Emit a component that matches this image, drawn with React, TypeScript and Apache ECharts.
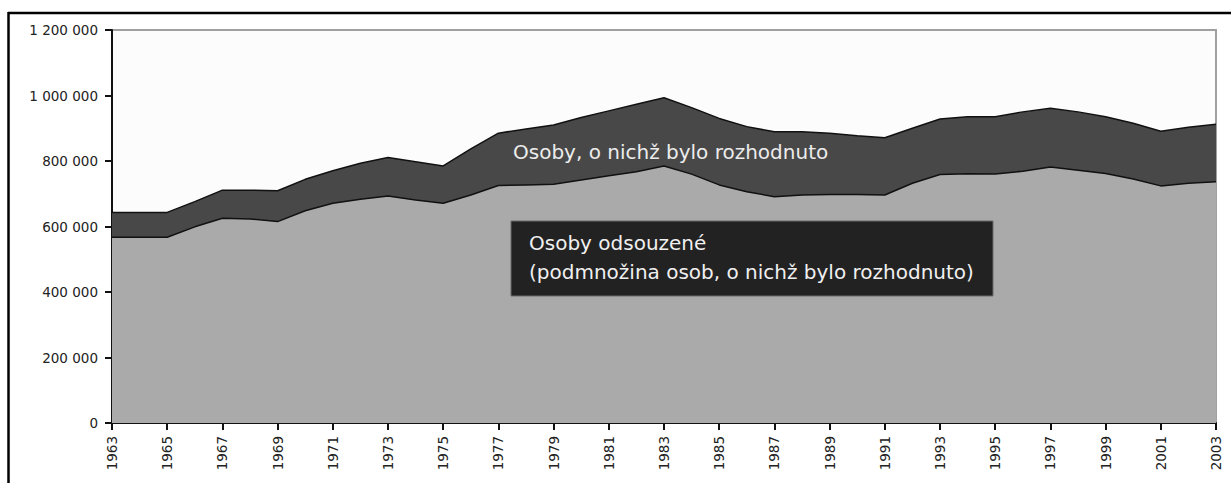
import React, { useEffect, useRef } from "react";
import * as echarts from "echarts";

const years = [
  "1963", "1964", "1965", "1966", "1967", "1968", "1969", "1970", "1971", "1972",
  "1973", "1974", "1975", "1976", "1977", "1978", "1979", "1980", "1981", "1982",
  "1983", "1984", "1985", "1986", "1987", "1988", "1989", "1990", "1991", "1992",
  "1993", "1994", "1995", "1996", "1997", "1998", "1999", "2000", "2001", "2002", "2003",
];

// Osoby, o nichž bylo rozhodnuto
const decided = [
  643000, 643000, 643000, 676000, 711000, 711000, 709000, 744000, 770000, 793000,
  811000, 798000, 785000, 837000, 885000, 898000, 910000, 933000, 953000, 973000,
  993000, 963000, 930000, 905000, 889000, 889000, 885000, 877000, 871000, 900000,
  928000, 935000, 935000, 950000, 961000, 950000, 935000, 915000, 891000, 903000, 912000,
];

// Osoby odsouzené
const convicted = [
  567000, 567000, 567000, 599000, 625000, 623000, 615000, 648000, 671000, 683000,
  693000, 681000, 671000, 696000, 725000, 727000, 729000, 742000, 755000, 767000,
  785000, 760000, 727000, 706000, 691000, 696000, 698000, 698000, 696000, 732000,
  759000, 761000, 760000, 769000, 782000, 772000, 762000, 745000, 724000, 732000, 737000,
];

const labelDecided = "Osoby, o nichž bylo rozhodnuto";
const labelConvicted1 = "Osoby odsouzené";
const labelConvicted2 = "(podmnožina osob, o nichž bylo rozhodnuto)";

const FONT = "DejaVu Sans";

export default function App() {
  const ref = useRef<HTMLDivElement>(null);

  useEffect(() => {
    if (!ref.current) return;
    const chart = echarts.init(ref.current, undefined, { renderer: "svg" });
    chart.setOption({
      animation: false,
      backgroundColor: "#ffffff",
      grid: {
        left: 112,
        right: 15,
        top: 30,
        bottom: 60,
        show: true,
        backgroundColor: "#fcfcfc",
        borderColor: "#a0a0a0",
        borderWidth: 2,
      },
      xAxis: {
        type: "category",
        data: years,
        boundaryGap: false,
        axisLine: { lineStyle: { color: "#111", width: 2 } },
        axisTick: { show: true, interval: 1, length: 7, lineStyle: { color: "#111", width: 2 } },
        axisLabel: {
          interval: 1,
          rotate: 90,
          margin: 13,
          color: "#222",
          fontFamily: FONT,
          fontSize: 13.5,
        },
        splitLine: { show: false },
      },
      yAxis: {
        type: "value",
        min: 0,
        max: 1200000,
        interval: 200000,
        axisLine: { show: true, lineStyle: { color: "#111", width: 2 } },
        axisTick: { show: true, length: 7, lineStyle: { color: "#111", width: 2 } },
        axisLabel: {
          margin: 14,
          color: "#222",
          fontFamily: FONT,
          fontSize: 13.5,
          formatter: (v: number) => String(v).replace(/\B(?=(\d{3})+(?!\d))/g, " "),
        },
        splitLine: { show: false },
      },
      series: [
        {
          name: labelDecided,
          type: "line",
          data: decided,
          showSymbol: false,
          lineStyle: { color: "#111", width: 1.5 },
          areaStyle: { color: "#484848", opacity: 1 },
          z: 2,
        },
        {
          name: labelConvicted1,
          type: "line",
          data: convicted,
          showSymbol: false,
          lineStyle: { color: "#111", width: 1.5 },
          areaStyle: { color: "#aaaaaa", opacity: 1 },
          z: 3,
        },
      ],
      graphic: [
        { type: "line", shape: { x1: 8, y1: 13, x2: 1231, y2: 13 }, style: { stroke: "#000", lineWidth: 2.5 }, z: 100 },
        { type: "line", shape: { x1: 8.5, y1: 12, x2: 8.5, y2: 483 }, style: { stroke: "#000", lineWidth: 2.5 }, z: 100 },
        {
          type: "text",
          x: 513,
          y: 152,
          z: 100,
          style: {
            text: labelDecided,
            fill: "#ececec",
            font: `20px "${FONT}"`,
            verticalAlign: "middle",
            align: "left",
          },
        },
        {
          type: "rect",
          shape: { x: 511, y: 221, width: 482, height: 75 },
          style: { fill: "#222222", stroke: "#6a6a6a", lineWidth: 1 },
          z: 100,
        },
        {
          type: "text",
          x: 529,
          y: 243,
          z: 101,
          style: {
            text: labelConvicted1,
            fill: "#f0f0f0",
            font: `20px "${FONT}"`,
            verticalAlign: "middle",
            align: "left",
          },
        },
        {
          type: "text",
          x: 529,
          y: 272,
          z: 101,
          style: {
            text: labelConvicted2,
            fill: "#f0f0f0",
            font: `20px "${FONT}"`,
            verticalAlign: "middle",
            align: "left",
          },
        },
      ],
    });
    return () => chart.dispose();
  }, []);

  return (
    <div
      ref={ref}
      style={{ position: "fixed", left: 0, top: 0, width: 1231, height: 483, background: "#fff" }}
    />
  );
}
